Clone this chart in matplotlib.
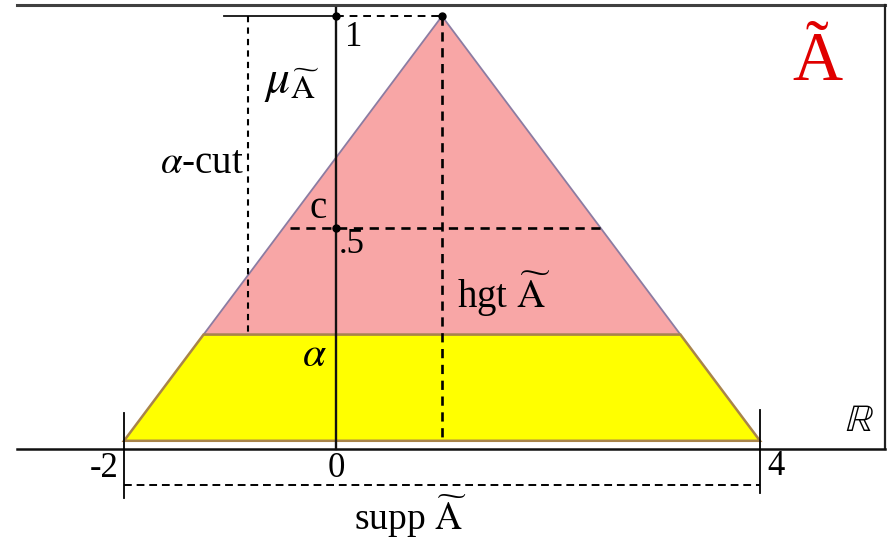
import matplotlib
matplotlib.use("Agg")
import matplotlib.pyplot as plt

# fuzzy number A: triangle on support [-2, 4] with peak at 1
support = [-2, 4]
peak = 1
height = 1.0
alpha = 0.25
half = 0.5

plt.rcParams['font.family'] = ['Liberation Serif', 'DejaVu Serif']
plt.rcParams['mathtext.fontset'] = 'stix'

fig = plt.figure(figsize=(8.88, 5.41), dpi=100)
ax = fig.add_axes([0, 0, 1, 1])
ax.set_xlim(-3.17, 5.208)
ax.set_ylim(-0.236, 1.038)
ax.axis('off')


def cut(level):
    # left / right ends of the level-cut
    lo = support[0] + (peak - support[0]) * level
    hi = support[1] - (support[1] - peak) * level
    return lo, hi


a_lo, a_hi = cut(alpha)
h_lo, h_hi = cut(half)

# pink upper part, yellow alpha band
ax.fill([a_lo, peak, a_hi], [alpha, height, alpha], color="#f8a6a6",
        edgecolor="#8c7ca2", lw=1.3, zorder=1)
ax.fill([support[0], support[1], a_hi, a_lo], [0, 0, alpha, alpha],
        color="#ffff00", edgecolor="#a8844a", lw=1.8, zorder=2)

# frame and real axis
ax.plot([-3.01, 5.18], [1.026, 1.026], color="#404040", lw=2.2)
ax.plot([5.18, 5.18], [1.026, -0.019], color="#202020", lw=1.6)
ax.plot([-3.01, 5.18], [-0.019, -0.019], color="#101010", lw=1.8)

# membership axis
ax.plot([0, 0], [1.019, -0.019], color="#111111", lw=1.7, zorder=3)
ax.plot([-1.06, 0], [height, height], color="#111111", lw=1.3)

dash = (0, (3.5, 2.5))
ax.plot([0, peak], [height, height], color="black", lw=1.4, ls=(0, (4, 3)))
ax.plot([peak, peak], [height, 0], color="black", lw=1.9, ls=dash, zorder=3)
ax.plot([h_lo + 0.07, h_hi], [half, half], color="black", lw=1.9, ls=dash, zorder=3)
ax.plot([-0.83, -0.83], [height, alpha], color="black", lw=1.5, ls=(0, (3, 2.5)), zorder=3)

# support bracket
ax.plot(support, [-0.1035, -0.1035], color="black", lw=1.4, ls=(0, (4, 2.5)))
ax.plot([support[0], support[0]], [0.066, -0.134], color="black", lw=1.3)
ax.plot([support[1], support[1]], [0.073, -0.122], color="black", lw=1.3)

ax.plot([0, peak, 0], [height, height, half], "o", color="black", ms=5, zorder=4)

fd = 25
fw = 28
ax.text(0.085, 0.95, "1", fontsize=fd, ha="left", va="center")
ax.text(-0.42, 0.84, r"$\mu_{\widetilde{\mathrm{A}}}$", fontsize=34, ha="center", va="center")
ax.text(-0.87, 0.654, r"$\alpha$-cut", fontsize=fw, ha="right", va="center")
ax.text(-0.17, 0.548, "c", fontsize=fw, ha="center", va="center")
ax.text(0.03, 0.462, ".5", fontsize=fd, ha="left", va="center")
ax.text(1.14, 0.345, r"hgt $\widetilde{\mathrm{A}}$", fontsize=fw, ha="left", va="center")
ax.text(-0.2, 0.2, r"$\alpha$", fontsize=fw + 2, ha="center", va="center")
ax.text(-2.05, -0.066, "-2", fontsize=fd, ha="right", va="center")
ax.text(0, -0.066, "0", fontsize=fd, ha="center", va="center")
ax.text(4.07, -0.061, "4", fontsize=fd, ha="left", va="center")
ax.text(0.7, -0.178, r"supp $\widetilde{\mathrm{A}}$", fontsize=27, ha="center", va="center")
ax.text(4.54, 0.89, "Ã", fontsize=50, color="#e00000", ha="center", va="center")
ax.text(4.94, 0.045, r"$\mathbb{R}$", fontsize=28, ha="center", va="center")

fig.savefig("out.png", dpi=100)
